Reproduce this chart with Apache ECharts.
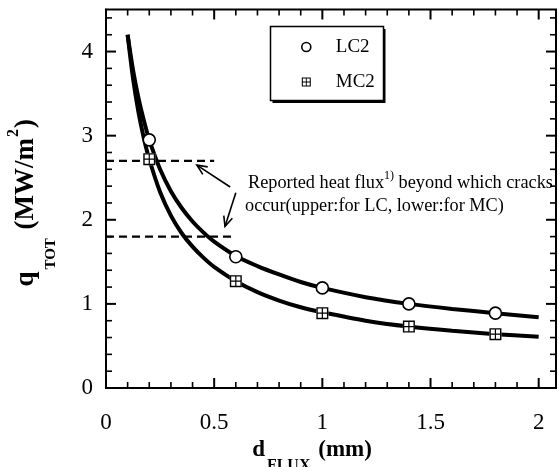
<!DOCTYPE html>
<html>
<head>
<meta charset="utf-8">
<script src="https://cdn.jsdelivr.net/npm/echarts@6/dist/echarts.min.js"></script>
<style>
  html, body { margin: 0; padding: 0; background: #fff; }
  #chart { width: 559px; height: 467px; }
</style>
</head>
<body>
<div id="chart"></div>
<script>
// Measured surface heat flux at each flux-path thickness (mm)
const dMeasured = [0.2, 0.6, 1.0, 1.4, 1.8];
const qLC2 = [2.95, 1.56, 1.19, 1.0, 0.89];
const qMC2 = [2.72, 1.27, 0.89, 0.73, 0.64];

// Fitted curves through the measurements
const dFit = [0.1, 0.125, 0.15, 0.175, 0.2, 0.25, 0.3, 0.35, 0.4, 0.45, 0.5, 0.6, 0.7, 0.8, 0.9, 1.0, 1.2, 1.4, 1.6, 1.8, 2.0];
const qFitLC2 = [4.2, 3.78, 3.45, 3.18, 2.95, 2.6, 2.34, 2.14, 1.98, 1.85, 1.74, 1.57, 1.45, 1.35, 1.26, 1.19, 1.08, 1.0, 0.94, 0.89, 0.84];
const qFitMC2 = [4.2, 3.68, 3.28, 2.97, 2.72, 2.33, 2.05, 1.84, 1.68, 1.55, 1.44, 1.27, 1.14, 1.04, 0.96, 0.9, 0.8, 0.73, 0.68, 0.64, 0.61];

// Reported crack thresholds: heat flux level and extent of the dashed marker line
const crackLimitQ = [2.7, 1.8];
const crackLineEnd = [0.5, 0.6];

// Axis ranges and tick positions (ticks point into the frame on all four sides)
const X_RANGE = [0, 2.08];
const Y_RANGE = [0, 4.5];
const xMajorTicks = [0, 0.5, 1, 1.5, 2];
const xMinorTicks = [0.1, 0.2, 0.3, 0.4, 0.6, 0.7, 0.8, 0.9, 1.1, 1.2, 1.3, 1.4, 1.6, 1.7, 1.8, 1.9];
const yMajorTicks = [0, 1, 2, 3, 4];
const yMinorTicks = [0.2, 0.4, 0.6, 0.8, 1.2, 1.4, 1.6, 1.8, 2.2, 2.4, 2.6, 2.8, 3.2, 3.4, 3.6, 3.8, 4.2, 4.4];

const SERIF = '"Liberation Serif", "Times New Roman", serif';
const pairs = (xs, ys) => xs.map((x, i) => [x, ys[i]]);

// Square with a cross: outer square with four punched-out quarters
const crossSquare = 'path://M0,0H12V12H0Z M1.4,1.4V5.4H5.4V1.4Z M6.6,1.4V5.4H10.6V1.4Z M1.4,6.6V10.6H5.4V6.6Z M6.6,6.6V10.6H10.6V6.6Z';

const chart = echarts.init(document.getElementById('chart'), null, { renderer: 'canvas' });

const option = {
  animation: false,
  backgroundColor: '#fff',
  grid: {
    left: 106, right: 3, top: 9.5, bottom: 79,
    containLabel: false, outerBoundsMode: 'none',
    show: true, backgroundColor: 'transparent', borderColor: '#000', borderWidth: 2
  },
  xAxis: {
    type: 'value', position: 'bottom', min: X_RANGE[0], max: X_RANGE[1], interval: 0.5,
    axisLine: { show: true, onZero: false, lineStyle: { color: '#000', width: 2 } },
    axisTick: { show: false },
    minorTick: { show: false },
    splitLine: { show: false },
    axisLabel: { color: '#000', fontFamily: SERIF, fontSize: 23, margin: 23, showMaxLabel: false },
    name: '{b|d}{s|FLUX}{b| (mm)}',
    nameLocation: 'middle', nameGap: 49,
    nameTextStyle: {
      padding: [0, 38, 0, 0],
      rich: {
        b: { fontFamily: SERIF, fontSize: 23, fontWeight: 'bold', color: '#000', verticalAlign: 'top', lineHeight: 26 },
        s: { fontFamily: SERIF, fontSize: 16, fontWeight: 'bold', color: '#000', verticalAlign: 'top', lineHeight: 16, padding: [19, 2, 0, 2] }
      }
    }
  },
  yAxis: {
    type: 'value', position: 'left', min: Y_RANGE[0], max: Y_RANGE[1], interval: 1,
    axisLine: { show: true, onZero: false, lineStyle: { color: '#000', width: 2 } },
    axisTick: { show: false },
    minorTick: { show: false },
    splitLine: { show: false },
    axisLabel: { color: '#000', fontFamily: SERIF, fontSize: 23, margin: 13, showMaxLabel: false },
    name: '{b|q}{s|TOT}{b| (MW/m}{p|2}{b|)}',
    nameLocation: 'middle', nameRotate: 90, nameGap: 70,
    nameTextStyle: {
      padding: [0, 8, 0, 0],
      rich: {
        b: { fontFamily: SERIF, fontSize: 27, fontWeight: 'bold', color: '#000', verticalAlign: 'top', lineHeight: 30, padding: [7, 0, 0, 0] },
        s: { fontFamily: SERIF, fontSize: 15, fontWeight: 'bold', color: '#000', verticalAlign: 'top', lineHeight: 15, padding: [38, 2, 0, 2] },
        p: { fontFamily: SERIF, fontSize: 16, fontWeight: 'bold', color: '#000', verticalAlign: 'top', lineHeight: 16, padding: [0, 1, 0, 1] }
      }
    }
  },
  legend: {
    left: 270, top: 26,
    orient: 'vertical',
    backgroundColor: 'transparent',
    borderWidth: 0,
    padding: [10, 14, 7, 31],
    itemGap: 13, itemWidth: 9, itemHeight: 9,
    textStyle: { fontFamily: SERIF, fontSize: 19, color: '#000', lineHeight: 22, padding: [0, 0, 0, 20] },
    selectedMode: false,
    z: 20,
    data: [
      { name: 'LC2', icon: 'circle', itemStyle: { color: '#fff', borderColor: '#000', borderWidth: 1.6 } },
      { name: 'MC2', icon: crossSquare, itemStyle: { color: '#000', borderWidth: 0 } }
    ]
  },
  series: [
    {
      name: 'LC2 fit', type: 'line', data: pairs(dFit, qFitLC2),
      smooth: 0.3, showSymbol: false, silent: true,
      lineStyle: { color: '#000', width: 4 }, z: 2
    },
    {
      name: 'MC2 fit', type: 'line', data: pairs(dFit, qFitMC2),
      smooth: 0.3, showSymbol: false, silent: true,
      lineStyle: { color: '#000', width: 4 }, z: 2
    },
    {
      name: 'LC limit', type: 'line', data: [[0, crackLimitQ[0]], [crackLineEnd[0], crackLimitQ[0]]],
      showSymbol: false, silent: true,
      lineStyle: { color: '#000', width: 2.2, type: [8, 5] }, z: 1
    },
    {
      name: 'MC limit', type: 'line', data: [[0, crackLimitQ[1]], [crackLineEnd[1], crackLimitQ[1]]],
      showSymbol: false, silent: true,
      lineStyle: { color: '#000', width: 2.2, type: [8, 5] }, z: 1
    },
    {
      name: 'LC2', type: 'scatter', data: pairs(dMeasured, qLC2),
      symbol: 'circle', symbolSize: 12,
      itemStyle: { color: '#fff', borderColor: '#000', borderWidth: 1.6, opacity: 1 }, z: 4
    },
    {
      name: 'MC2 backing', type: 'scatter', data: pairs(dMeasured, qMC2),
      symbol: 'rect', symbolSize: 12,
      itemStyle: { color: '#fff', opacity: 1 }, z: 3
    },
    {
      name: 'MC2', type: 'scatter', data: pairs(dMeasured, qMC2),
      symbol: crossSquare, symbolSize: 12,
      itemStyle: { color: '#000', opacity: 1 }, z: 4
    }
  ]
};

chart.setOption(option);

const toPx = p => chart.convertToPixel({ gridIndex: 0 }, p);
const graphics = [];

// Inward-pointing ticks on all four sides of the frame, placed through the axis scales.
// Each tick is a thin filled rectangle on its own top layer.
const cornerLow = toPx([X_RANGE[0], Y_RANGE[0]]);
const cornerHigh = toPx([X_RANGE[1], Y_RANGE[1]]);
const frameLeft = cornerLow[0], frameBottom = cornerLow[1];
const frameRight = cornerHigh[0], frameTop = cornerHigh[1];

function tickRect(x, y, w, h) {
  return {
    type: 'rect', zlevel: 1, z: 50, silent: true,
    shape: { x: x, y: y, width: w, height: h },
    style: { fill: '#000' }
  };
}
function addXTicks(values, major) {
  const len = major ? 10 : 6, wid = major ? 2 : 1.6;
  values.forEach(v => {
    const px = toPx([v, Y_RANGE[0]])[0];
    graphics.push(tickRect(px - wid / 2, frameBottom - len, wid, len));
    graphics.push(tickRect(px - wid / 2, frameTop, wid, len));
  });
}
function addYTicks(values, major) {
  const len = major ? 10 : 6, wid = major ? 2 : 1.6;
  values.forEach(v => {
    const py = toPx([X_RANGE[0], v])[1];
    graphics.push(tickRect(frameLeft, py - wid / 2, len, wid));
    graphics.push(tickRect(frameRight - len, py - wid / 2, len, wid));
  });
}
addXTicks(xMajorTicks, true);
addXTicks(xMinorTicks, false);
addYTicks(yMajorTicks, true);
addYTicks(yMinorTicks, false);

// Annotation: text plus two arrows pointing at the reported threshold lines
const arrows = [
  { from: [0.574, 2.39], to: [0.42, 2.65] },
  { from: [0.60, 2.32], to: [0.55, 1.92] }
];

function arrowGraphics(a) {
  const p0 = toPx(a.from);
  const p1 = toPx(a.to);
  const ang = Math.atan2(p0[1] - p1[1], p0[0] - p1[0]);
  const L = 11, spread = 0.42;
  const h1 = [p1[0] + L * Math.cos(ang + spread), p1[1] + L * Math.sin(ang + spread)];
  const h2 = [p1[0] + L * Math.cos(ang - spread), p1[1] + L * Math.sin(ang - spread)];
  const style = { stroke: '#000', lineWidth: 1.6, fill: null };
  return [
    { type: 'line', shape: { x1: p0[0], y1: p0[1], x2: p1[0], y2: p1[1] }, style: style, z: 10 },
    { type: 'polyline', shape: { points: [h1, p1, h2] }, style: style, z: 10 }
  ];
}
arrows.forEach(a => graphics.push(...arrowGraphics(a)));

// Legend frame with a solid drop shadow on the lower right
graphics.push({
  type: 'rect', z: 15,
  shape: { x: 272.5, y: 29, width: 113, height: 74 },
  style: { fill: '#000' }
});
graphics.push({
  type: 'rect', z: 16,
  shape: { x: 270.5, y: 26.5, width: 113, height: 74 },
  style: { fill: '#fff', stroke: '#000', lineWidth: 1.5 }
});

graphics.push({
  type: 'text', left: 248, top: 170, z: 10,
  style: {
    text: '{t|Reported heat flux}{u|1)}{t| beyond which cracks}',
    rich: {
      t: { fontFamily: SERIF, fontSize: 18.3, fill: '#000', verticalAlign: 'bottom', lineHeight: 22 },
      u: { fontFamily: SERIF, fontSize: 12, fill: '#000', verticalAlign: 'top', lineHeight: 12 }
    }
  }
});
graphics.push({
  type: 'text', left: 245, top: 197, z: 10,
  style: {
    text: 'occur(upper:for LC, lower:for MC)',
    font: '18.3px ' + SERIF, fill: '#000'
  }
});
chart.setOption({ graphic: graphics });
</script>
</body>
</html>
